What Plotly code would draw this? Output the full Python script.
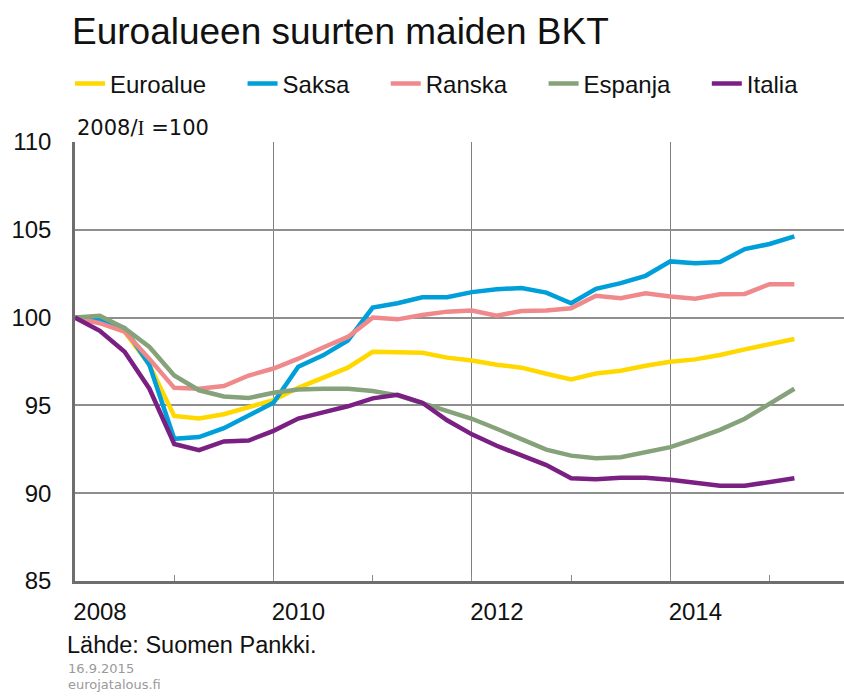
import plotly.graph_objects as go

quarters = ["2008Q1", "2008Q2", "2008Q3", "2008Q4", "2009Q1", "2009Q2", "2009Q3", "2009Q4",
            "2010Q1", "2010Q2", "2010Q3", "2010Q4", "2011Q1", "2011Q2", "2011Q3", "2011Q4",
            "2012Q1", "2012Q2", "2012Q3", "2012Q4", "2013Q1", "2013Q2", "2013Q3", "2013Q4",
            "2014Q1", "2014Q2", "2014Q3", "2014Q4", "2015Q1", "2015Q2"]

euroalue = [100, 99.72, 99.2, 97.3, 94.4, 94.25, 94.5, 94.9, 95.3, 96.0, 96.55, 97.15, 98.05, 98.05,
            98.0, 97.72, 97.56, 97.32, 97.15, 96.8, 96.48, 96.82, 96.97, 97.26, 97.49, 97.62, 97.87,
            98.19, 98.5, 98.78]
saksa = [100, 99.9, 99.4, 97.3, 93.1, 93.2, 93.7, 94.45, 95.15, 97.2, 97.85, 98.7, 100.57, 100.82,
         101.16, 101.16, 101.45, 101.62, 101.68, 101.42, 100.82, 101.64, 101.96, 102.38, 103.2, 103.1,
         103.16, 103.9, 104.19, 104.63]
ranska = [100, 99.68, 99.2, 97.65, 96.0, 95.95, 96.1, 96.7, 97.1, 97.66, 98.3, 98.9, 100.0, 99.9,
          100.15, 100.34, 100.4, 100.11, 100.38, 100.4, 100.53, 101.24, 101.1, 101.39, 101.2, 101.07,
          101.33, 101.35, 101.9, 101.9]
espanja = [100, 100.1, 99.4, 98.33, 96.7, 95.86, 95.51, 95.42, 95.72, 95.9, 95.95, 95.95, 95.82, 95.57,
           95.13, 94.71, 94.24, 93.67, 93.1, 92.48, 92.14, 91.99, 92.05, 92.33, 92.62, 93.1, 93.61,
           94.24, 95.1, 95.95]
italia = [100, 99.25, 98.05, 95.95, 92.8, 92.45, 92.95, 93.0, 93.55, 94.25, 94.6, 94.95, 95.4, 95.6,
          95.15, 94.15, 93.35, 92.7, 92.15, 91.6, 90.85, 90.8, 90.88, 90.88, 90.77, 90.57, 90.42,
          90.42, 90.66, 90.85]

series_names = ["Euroalue", "Saksa", "Ranska", "Espanja", "Italia"]
series_values = [euroalue, saksa, ranska, espanja, italia]
series_colors = ["#FFD800", "#009FDA", "#F0898B", "#86A27A", "#7B2083"]

x_tick_vals = [2008, 2009, 2010, 2011, 2012, 2013, 2014, 2015]
x_tick_text = ["2008", "", "2010", "", "2012", "", "2014", ""]
x_grid_vals = [2010, 2012, 2014]
y_tick_vals = [85, 90, 95, 100, 105, 110]


def q_to_year(q):
    y, n = q.split("Q")
    return int(y) + (int(n) - 1) / 4


x = [q_to_year(q) for q in quarters]

FONT = "Liberation Sans, Arial, sans-serif"
WIDE = "DejaVu Sans, sans-serif"
PAD = "\u00a0" * 4 + "\u2009"

# plot area in pixels: left 75, right 844, top 142, bottom 581
PL, PR, PT, PB = 75, 844, 142, 581


def px_x(px):
    return (px - PL) / (PR - PL)


def px_y(py):
    return (PB - py) / (PB - PT)


fig = go.Figure()
for name, vals, col in zip(series_names, series_values, series_colors):
    fig.add_trace(go.Scatter(x=x, y=vals, mode="lines", name=name + PAD,
                             line=dict(color=col, width=4.5)))

fig.update_layout(
    width=844, height=697,
    margin=dict(l=PL, r=844 - PR, t=PT, b=697 - PB),
    paper_bgcolor="white", plot_bgcolor="white",
    font=dict(family=FONT, color="#111111"),
    title=dict(text="Euroalueen suurten maiden BKT", x=72 / 844, xanchor="left",
               xref="container", y=1 - 31 / 697, yanchor="middle",
               font=dict(size=37, family=FONT, color="#111111")),
    showlegend=True,
    legend=dict(orientation="h", xref="container", yref="container",
                x=70 / 844, xanchor="left", y=1 - 84 / 697, yanchor="middle",
                font=dict(size=24, family=FONT, color="#111111"),
                itemwidth=30, bgcolor="rgba(0,0,0,0)", tracegroupgap=0),
    xaxis=dict(range=[2008, 2015.75], tickvals=x_tick_vals, ticktext=x_tick_text,
               ticks="inside", ticklen=6, tickcolor="#8a8a8a", tickwidth=1,
               showgrid=False,
               showline=True, linecolor="#6e6e6e", linewidth=2.5,
               tickfont=dict(size=24, family=FONT, color="#111111"),
               ticklabelshift=25, ticklabelstandoff=7,
               minor=dict(tickvals=x_grid_vals, ticks="", showgrid=True,
                          gridcolor="#7f7f7f", gridwidth=1),
               zeroline=False, fixedrange=True),
    yaxis=dict(range=[85, 110], tickvals=y_tick_vals, ticks="",
               showgrid=True, gridcolor="#8e8e8e", gridwidth=1.6,
               showline=True, linecolor="#6e6e6e", linewidth=2.5,
               tickfont=dict(size=24, family=FONT, color="#111111"),
               ticklabelstandoff=16, zeroline=False, fixedrange=True),
)

fig.add_annotation(text='2008/<span style="font-family:Liberation Serif, serif">I</span> =100',
                   xref="paper", yref="paper", x=px_x(75), y=1, xanchor="left", yanchor="bottom",
                   yshift=0, showarrow=False, font=dict(size=21, family=WIDE, color="#111111"))
fig.add_annotation(text="Lähde: Suomen Pankki.", xref="paper", yref="paper",
                   x=px_x(65), y=px_y(645), xanchor="left", yanchor="middle",
                   showarrow=False, font=dict(size=23.5, family=FONT, color="#111111"))
fig.add_annotation(text="16.9.2015", xref="paper", yref="paper",
                   x=px_x(66), y=px_y(668), xanchor="left", yanchor="middle",
                   showarrow=False, font=dict(size=13, family=WIDE, color="#9a9a9a"))
fig.add_annotation(text="eurojatalous.fi", xref="paper", yref="paper",
                   x=px_x(66), y=px_y(684), xanchor="left", yanchor="middle",
                   showarrow=False, font=dict(size=13, family=WIDE, color="#9a9a9a"))

fig.write_html("out.html", config={"displayModeBar": False},
               post_script="document.body.style.margin='0';document.body.style.padding='0';")
